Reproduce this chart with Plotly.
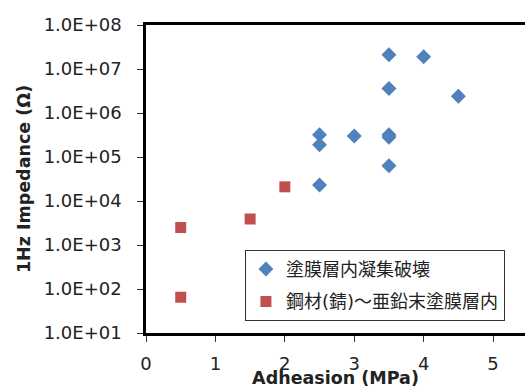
import plotly.graph_objects as go

# Series 1: 塗膜層内凝集破壊 (cohesive failure within coating)
blue_x = [3.5, 4.0, 3.5, 4.5, 2.5, 2.5, 3.0, 3.5, 3.5, 3.5, 2.5]
blue_y = [2.1e7, 1.9e7, 3.6e6, 2.4e6, 3.2e5, 1.9e5, 3.0e5, 3.2e5, 2.8e5, 6.3e4, 2.3e4]

# Series 2: 鋼材(錆)～亜鉛末塗膜層内
red_x = [2.0, 1.5, 0.5, 0.5]
red_y = [2.1e4, 3.9e3, 2.5e3, 65]

series_names = ["塗膜層内凝集破壊", "鋼材(錆)～亜鉛末塗膜層内"]

y_tick_vals = [1e1, 1e2, 1e3, 1e4, 1e5, 1e6, 1e7, 1e8]
y_tick_text = ["1.0E+01", "1.0E+02", "1.0E+03", "1.0E+04",
               "1.0E+05", "1.0E+06", "1.0E+07", "1.0E+08"]
x_tick_vals = [0, 1, 2, 3, 4, 5]

x_title = "Adheasion (MPa)"
y_title = "1Hz Impedance (Ω)"

FONT = "DejaVu Sans, Verdana, sans-serif"
CJK = "DejaVu Sans, Noto Sans CJK JP, sans-serif"

fig = go.Figure()
fig.add_trace(go.Scatter(
    x=blue_x, y=blue_y, mode="markers", name=series_names[0],
    legendgroup="a",
    marker=dict(symbol="diamond", size=11.5, color="#4F81BD",
                line=dict(width=0)),
))
fig.add_trace(go.Scatter(
    x=red_x, y=red_y, mode="markers", name=series_names[1],
    legendgroup="b",
    marker=dict(symbol="square", size=11, color="#C0504D",
                line=dict(width=0)),
))

fig.update_layout(
    width=525, height=388,
    margin=dict(l=146, r=0, t=25, b=55, autoexpand=False),
    paper_bgcolor="white", plot_bgcolor="white",
    font=dict(family=FONT, size=18, color="#222"),
    showlegend=True,
    legend=dict(
        x=0.261, y=0.27, xanchor="left", yanchor="top",
        bgcolor="white", bordercolor="#333", borderwidth=1,
        font=dict(family=CJK, size=18, color="#222"),
        traceorder="grouped", tracegroupgap=6,
        itemwidth=30,
    ),
    xaxis=dict(
        range=[0, 5.46], tickvals=x_tick_vals, automargin=False,
        showgrid=False, zeroline=False,
        showline=True, linecolor="black", linewidth=2.5, mirror=True,
        ticks="outside", ticklen=6, tickwidth=1, tickcolor="#333",
        ticklabelstandoff=7,
        tickfont=dict(family=FONT, size=18, color="#222"),
        title=dict(text="<b>" + x_title + "</b>", standoff=3,
                   font=dict(family=FONT, size=17.5, color="#222")),
    ),
    yaxis=dict(
        type="log", range=[1, 8], automargin=False,
        tickvals=y_tick_vals, ticktext=y_tick_text,
        showgrid=False, zeroline=False,
        showline=True, linecolor="black", linewidth=2.5, mirror=False,
        ticks="outside", ticklen=6, tickwidth=1, tickcolor="#333",
        ticklabelstandoff=12,
        tickfont=dict(family=FONT, size=18, color="#222"),
        title=dict(text="<b>" + y_title + "</b>", standoff=9,
                   font=dict(family=FONT, size=17.5, color="#222")),
    ),
)

fig.write_html(
    "out.html",
    config={"displayModeBar": False},
    post_script="document.body.style.margin='0';document.body.style.overflow='hidden';",
)
